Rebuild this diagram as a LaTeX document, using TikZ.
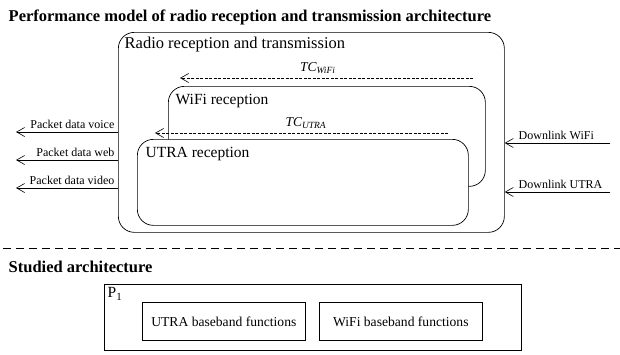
\documentclass[tikz,border=0pt]{standalone}
\usepackage{fontspec}
\setmainfont{Liberation Serif}
\usetikzlibrary{arrows.meta}

\begin{document}
\begin{tikzpicture}[x=1pt,y=-1pt,line width=0.7pt,
    tip/.style={-{Straight Barb[length=8pt,width=9pt,line width=0.6pt]}},
    roundbox/.style={draw,rounded corners=16pt,anchor=north west,inner sep=0pt},
    funcbox/.style={draw,anchor=north west,minimum width=163pt,minimum height=38pt,
        inner sep=0pt,font=\fontsize{13.6}{16}\selectfont},
    small/.style={font=\fontsize{12}{14}\selectfont},
    big/.style={font=\fontsize{15.5}{18}\selectfont},
    head/.style={font=\fontsize{16.5}{19}\selectfont\bfseries}]
    \useasboundingbox (0,0) rectangle (620,354);

    \node [head, anchor=west] (title) at (5,17) {Performance model of radio reception and transmission architecture};

    % radio reception and transmission
    \node [roundbox, minimum width=386pt, minimum height=200pt] (radio) at (118,32) {};
    \node [big, anchor=west, font=\fontsize{16.5}{19}\selectfont] (radiolbl) at (121,45) {Radio reception and transmission};
    \node [roundbox, minimum width=317pt, minimum height=100pt] (wifi) at (168,86) {};
    \node [big, anchor=west] (wifilbl) at (172,101) {WiFi reception};
    \node [roundbox, fill=white, minimum width=331pt, minimum height=86pt] (utra) at (137,139) {};
    \node [big, anchor=west] (utralbl) at (142,154) {UTRA reception};

    % transfer delays
    \coordinate (tcwA) at (473,78);
    \coordinate (tcwB) at (180,78);
    \coordinate (tcuA) at (448,133);
    \coordinate (tcuB) at (155,133);
    \draw [tip, dash pattern=on 3pt off 1.5pt] (tcwA) -- (tcwB)
        node [pos=0.53, above=1pt, font=\fontsize{13.5}{15}\selectfont] (tcw) {\textit{TC\textsubscript{WiFi}}};
    \draw [tip, dash pattern=on 3pt off 1.5pt] (tcuA) -- (tcuB)
        node [pos=0.485, above=1pt, font=\fontsize{13.5}{15}\selectfont] (tcu) {\textit{TC\textsubscript{UTRA}}};

    % outputs and inputs
    \foreach \y/\name in {132/voice,160/web,188/video}{%
        \coordinate (\name A) at (radio.west |- 0,\y);
        \coordinate (\name B) at (16,\y);
        \draw [tip] (\name A) -- (\name B)
            node [small, pos=0, above left] (\name lbl) {Packet data \name};}
    \foreach \y/\name in {143/WiFi,192/UTRA}{%
        \coordinate (dl\name A) at (610,\y);
        \coordinate (dl\name B) at (radio.east |- 0,\y);
        \draw [tip] (dl\name A) -- (dl\name B);
        \node [small, anchor=south west] (dl\name lbl) at (515,\y) {Downlink \name};}

    \draw [dash pattern=on 8pt off 5pt] (3,248) -- (620,248);

    % studied architecture
    \node [head, anchor=west] (studied) at (5,267) {Studied architecture};
    \node [draw, anchor=north west, minimum width=417pt, minimum height=66pt, inner sep=0pt] (proc) at (104,284) {};
    \node [big, anchor=north west] (proclbl) at (proc.north west) {P\textsubscript{1}};
    \node [funcbox] (utrabb) at (142,302) {UTRA baseband functions};
    \node [funcbox] (wifibb) at (319,302) {WiFi baseband functions};
\end{tikzpicture}
\end{document}
